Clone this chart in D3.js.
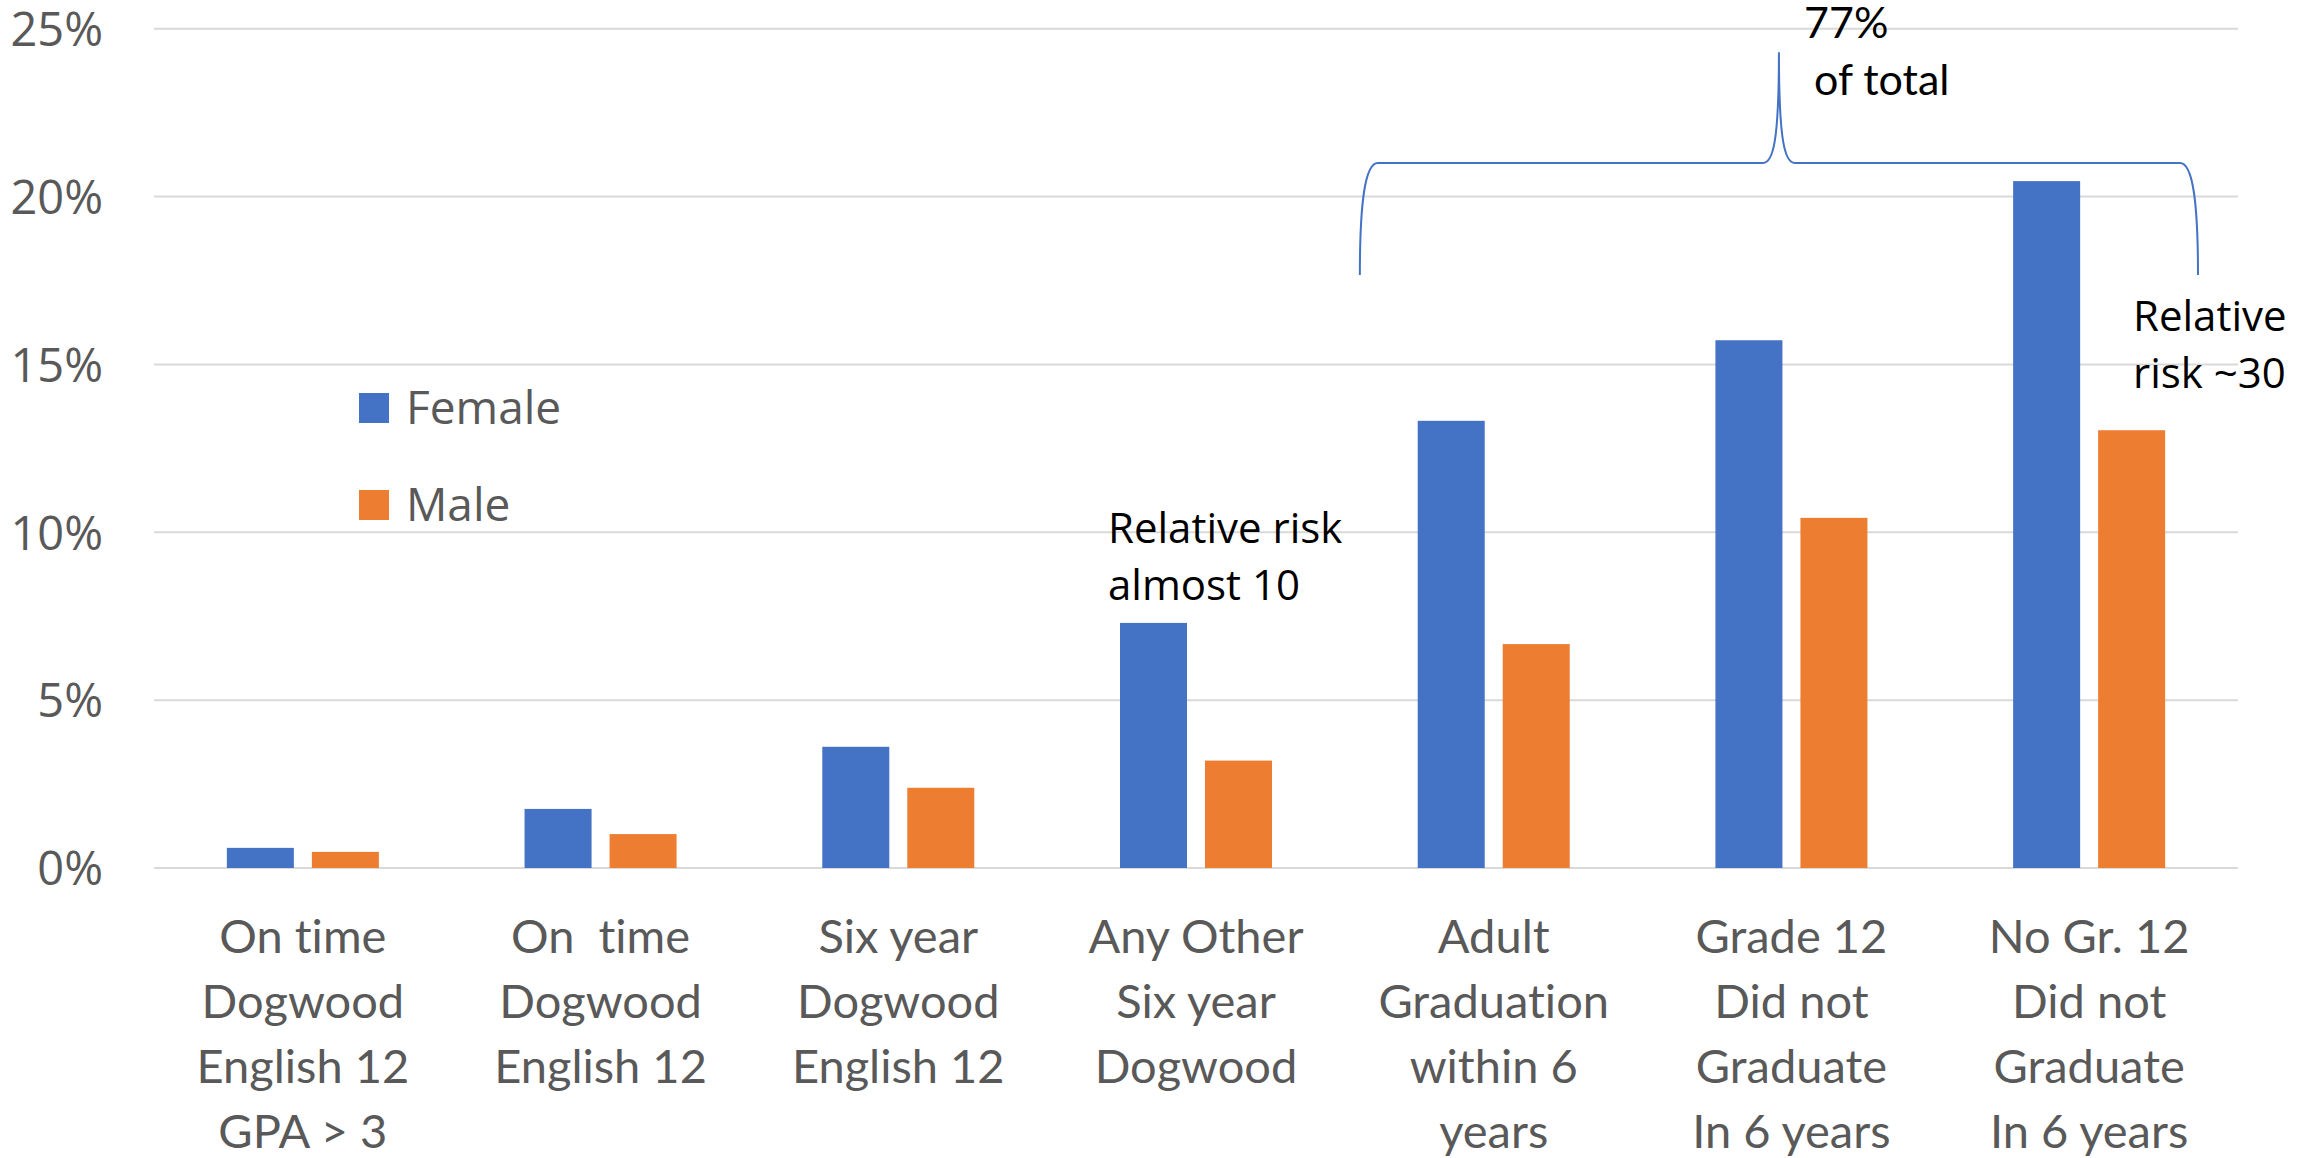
<!DOCTYPE html>
<html>
<head>
<meta charset="utf-8">
<script src="https://cdn.jsdelivr.net/npm/d3@7"></script>
<style>
  html, body { margin: 0; padding: 0; background: #fff; }
  svg { display: block; }
  text { font-variant-ligatures: none; font-feature-settings: "liga" 0, "clig" 0; }
</style>
</head>
<body>
<svg id="chart" width="2315" height="1158"></svg>
<script>
// Share of students by graduation outcome, split by sex (percent)
const categories = ["g1", "g2", "g3", "g4", "g5", "g6", "g7"];
const categoryLabels = [
  ["On time", "Dogwood", "English 12", "GPA > 3"],
  ["On  time", "Dogwood", "English 12"],
  ["Six year", "Dogwood", "English 12"],
  ["Any Other", "Six year", "Dogwood"],
  ["Adult", "Graduation", "within 6", "years"],
  ["Grade 12", "Did not", "Graduate", "In 6 years"],
  ["No Gr. 12", "Did not", "Graduate", "In 6 years"]
];
const seriesNames = ["Female", "Male"];
const femaleValues = [0.60, 1.76, 3.61, 7.30, 13.32, 15.72, 20.46];
const maleValues   = [0.48, 1.01, 2.39, 3.20, 6.67, 10.43, 13.04];
const yTicks = [0, 5, 10, 15, 20, 25];
const colors = { Female: "#4472C4", Male: "#ED7D31" };

const svg = d3.select("#chart");
const W = 2315, H = 1158;
svg.append("rect").attr("width", W).attr("height", H).attr("fill", "#fff");

const plot = { left: 154, right: 2238, top: 28.7, bottom: 868 };

const x = d3.scaleBand().domain(categories).range([plot.left, plot.right]).padding(0);
const bw = x.bandwidth();
const xSub = d3.scaleBand().domain(seriesNames)
  .range([bw * 0.2447, bw * 0.7553]).paddingInner(0.2118).paddingOuter(0);
const y = d3.scaleLinear().domain([0, 25]).range([plot.bottom, plot.top]);

// horizontal gridlines
svg.append("g").selectAll("line").data(yTicks).join("line")
  .attr("x1", plot.left).attr("x2", plot.right)
  .attr("y1", d => y(d)).attr("y2", d => y(d))
  .attr("stroke", "#d9d9d9").attr("stroke-width", 2);

// y axis labels
const yAxis = d3.axisLeft(y).tickValues(yTicks).tickFormat(d => d + "%").tickSize(0).tickPadding(0);
const gy = svg.append("g").attr("transform", `translate(${plot.left - 51},0)`).call(yAxis);
gy.select(".domain").remove();
gy.selectAll("text")
  .attr("font-family", "'Open Sans', sans-serif")
  .attr("font-size", 47)
  .attr("fill", "#595959")
  .attr("dy", "0.357em");

// bars
const rows = categories.map((c, i) => ({ cat: c, Female: femaleValues[i], Male: maleValues[i] }));
const groups = svg.append("g").selectAll("g").data(rows).join("g")
  .attr("transform", d => `translate(${x(d.cat)},0)`);
groups.selectAll("rect").data(d => seriesNames.map(s => ({ s, v: d[s] }))).join("rect")
  .attr("x", d => xSub(d.s))
  .attr("width", xSub.bandwidth())
  .attr("y", d => y(d.v))
  .attr("height", d => y(0) - y(d.v))
  .attr("fill", d => colors[d.s]);

// category labels
const catFont = "Lato, 'Open Sans', sans-serif";
const lab = svg.append("g").selectAll("text").data(categories).join("text")
  .attr("text-anchor", "middle")
  .attr("font-family", catFont)
  .attr("font-size", 47)
  .attr("fill", "#595959")
  .style("white-space", "pre");
lab.each(function (c, i) {
  const t = d3.select(this);
  categoryLabels[i].forEach((line, k) => {
    t.append("tspan")
      .attr("x", x(c) + bw / 2)
      .attr("y", plot.bottom + 85 + k * 65)
      .text(line);
  });
});

// legend
const legend = svg.append("g").attr("transform", "translate(359,393)");
seriesNames.forEach((s, i) => {
  legend.append("rect").attr("x", 0).attr("y", i * 97).attr("width", 30).attr("height", 30)
    .attr("fill", colors[s]);
  legend.append("text").attr("x", 47).attr("y", i * 97 + 30.5)
    .attr("font-family", "'Open Sans', sans-serif").attr("font-size", 46)
    .attr("fill", "#595959").text(s);
});

// annotations
function note(x0, y0, lines, font, size) {
  const t = svg.append("text").attr("font-family", font).attr("font-size", size)
    .attr("fill", "#000").style("white-space", "pre");
  lines.forEach((ln, k) => t.append("tspan").attr("x", x0[k] ?? x0[0]).attr("y", y0 + k * 57).text(ln));
}
note([1108], 543, ["Relative risk", "almost 10"], "'Open Sans', sans-serif", 42);
note([2133], 331, ["Relative", "risk ~30"], "'Open Sans', sans-serif", 42);
note([1804, 1814], 38, ["77%", "of total"], "Lato, 'Open Sans', sans-serif", 43);

// brace grouping the last three outcomes
const bx0 = x("g5") + 15, bx1 = x("g7") + bw - 40, bmid = (bx0 + bx1) / 2;
const yFoot = y(17.66), yArm = y(21.0), yTip = y(24.3);
const brace = d3.path();
brace.moveTo(bx0, yFoot);
brace.bezierCurveTo(bx0, yArm + 40, bx0 + 5, yArm, bx0 + 18, yArm);
brace.lineTo(bmid - 16, yArm);
brace.bezierCurveTo(bmid - 6, yArm, bmid, yArm - 20, bmid, yTip);
brace.bezierCurveTo(bmid, yArm - 20, bmid + 6, yArm, bmid + 16, yArm);
brace.lineTo(bx1 - 18, yArm);
brace.bezierCurveTo(bx1 - 5, yArm, bx1, yArm + 40, bx1, yFoot);
svg.append("path").attr("d", brace.toString())
  .attr("fill", "none").attr("stroke", "#4472C4").attr("stroke-width", 2);
</script>
</body>
</html>
